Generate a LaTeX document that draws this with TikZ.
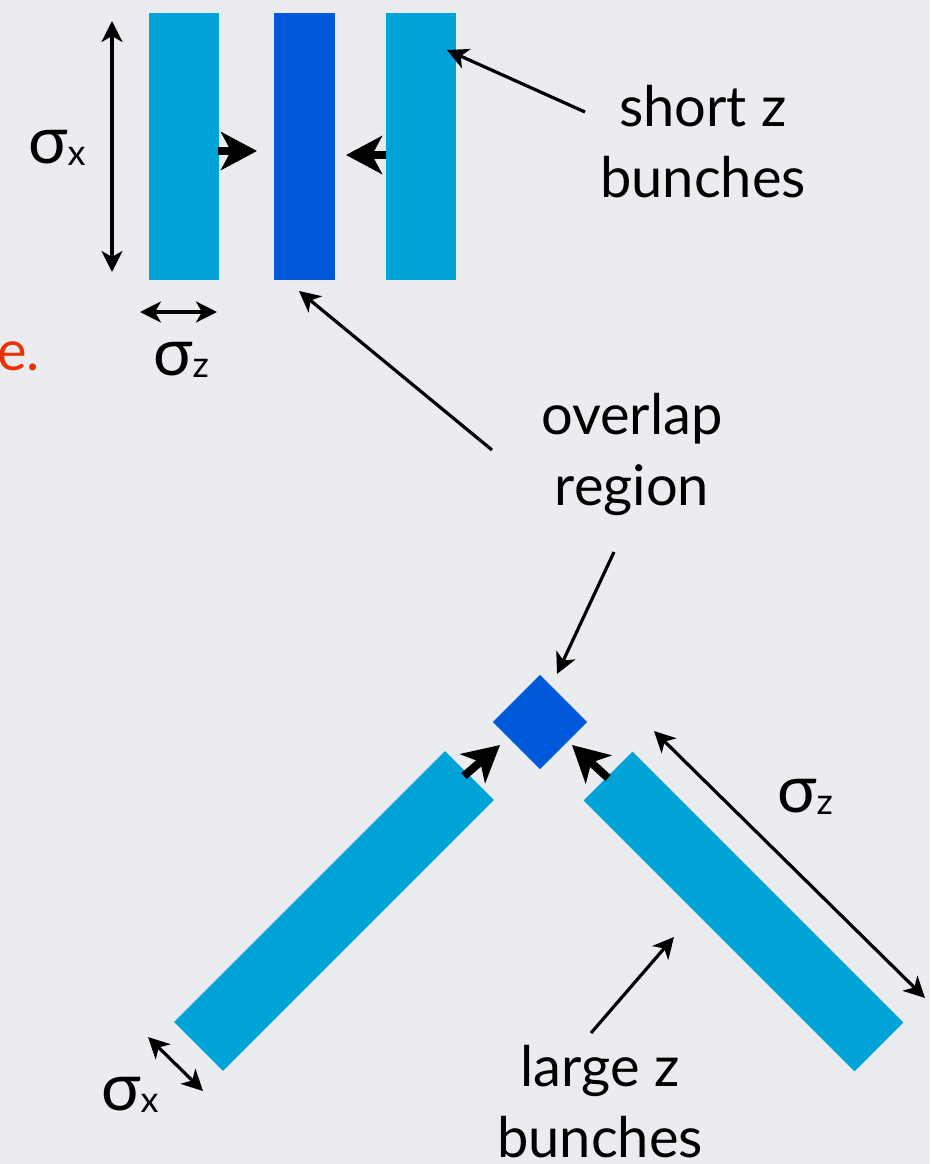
\documentclass[tikz,border=0pt]{standalone}
\usepackage{fontspec}
\setmainfont{Lato}
\usetikzlibrary{arrows.meta}
\definecolor{bg}{RGB}{235,236,240}
\definecolor{lblue}{RGB}{0,163,216}
\definecolor{dblue}{RGB}{0,89,216}
\definecolor{redtxt}{RGB}{232,52,8}
\newcommand\bigfont{\fontsize{56}{71}\selectfont}
\newcommand\sigsub[1]{{\fontsize{66}{66}\selectfont σ}\raisebox{-2pt}{\fontsize{36}{36}\selectfont #1}}
\tikzset{
  bar/.style={fill=lblue, draw=none, inner sep=0pt, outer sep=0pt},
  ovl/.style={fill=dblue, draw=none, inner sep=0pt, outer sep=0pt},
  thin/.style={line width=3.2pt, -{Stealth[length=21pt,width=21pt,inset=6pt]}},
  thinboth/.style={line width=3.2pt, {Stealth[length=21pt,width=21pt,inset=6pt]}-{Stealth[length=21pt,width=21pt,inset=6pt]}},
  thick/.style={line width=8pt, -{Stealth[length=36pt,width=38pt,inset=10pt]}},
  lbl/.style={font=\bigfont, inner sep=0pt, anchor=base west},
  txt/.style={font=\bigfont, inner sep=0pt, anchor=base, align=center},
}
\begin{document}
\begin{tikzpicture}[x=1pt,y=-1pt]
\fill[bg] (0,0) rectangle (930,1164);
\useasboundingbox (0,0) rectangle (930,1164);
% top bunches
\node[bar, minimum width=70pt, minimum height=267pt] (b1) at (184,146.5) {};
\node[ovl, minimum width=61pt, minimum height=267pt] (b2) at (304.5,146.5) {};
\node[bar, minimum width=70pt, minimum height=267pt] (b3) at (421,146.5) {};
% lower bunches
\node[bar, minimum width=383pt, minimum height=69pt, rotate=45] (L) at (334,911) {};
\node[bar, minimum width=383pt, minimum height=69pt, rotate=-45] (R) at (743.5,911.5) {};
\node[ovl, minimum width=66.5pt, minimum height=66.5pt, rotate=45] (D) at (540,722) {};
% labels
\node[lbl] (sx1) at (28,163) {\sigsub{x}};
\node[lbl] (sz1) at (153,375) {\sigsub{z}};
\node[lbl, text=redtxt] (edot) at (-3,370) {e.};
\node[txt] (shortz) at (703,197) {short z\\bunches};
\node[txt] (overlap) at (632,505) {overlap\\region};
\node[txt] (largez) at (600,1157) {large z\\bunches};
\node[lbl] (sz2) at (777,812) {\sigsub{z}};
\node[lbl] (sx2) at (101,1110) {\sigsub{x}};
% coordinates
\coordinate (sxa) at (112,21); \coordinate (sxb) at (112,272);
\coordinate (sza) at (140,312); \coordinate (szb) at (217,312);
\coordinate (t1a) at (218,151); \coordinate (t1b) at (257,151);
\coordinate (t2a) at (386,155); \coordinate (t2b) at (346,155);
\coordinate (sp) at (585,112); \coordinate (st) at (447,50);
\coordinate (op) at (492,450); \coordinate (ot) at (299,291);
\coordinate (oq) at (614,552); \coordinate (od) at (557,674);
\coordinate (l1a) at (464,776); \coordinate (l1b) at (500,745);
\coordinate (r1a) at (608,778); \coordinate (r1b) at (572,745);
\coordinate (z2a) at (654,731); \coordinate (z2b) at (925,998);
\coordinate (x2a) at (148,1037); \coordinate (x2b) at (203,1091);
\coordinate (lp) at (591,1033); \coordinate (lt) at (674,937);
% connectors
\draw[thinboth] (sxa) -- (sxb);
\draw[thinboth] (sza) -- (szb);
\draw[thick] (t1a) -- (t1b);
\draw[thick] (t2a) -- (t2b);
\draw[thin] (sp) -- (st);
\draw[thin] (op) -- (ot);
\draw[thin] (oq) -- (od);
\draw[thick] (l1a) -- (l1b);
\draw[thick] (r1a) -- (r1b);
\draw[thinboth] (z2a) -- (z2b);
\draw[thinboth] (x2a) -- (x2b);
\draw[thin] (lp) -- (lt);
\end{tikzpicture}
\end{document}
